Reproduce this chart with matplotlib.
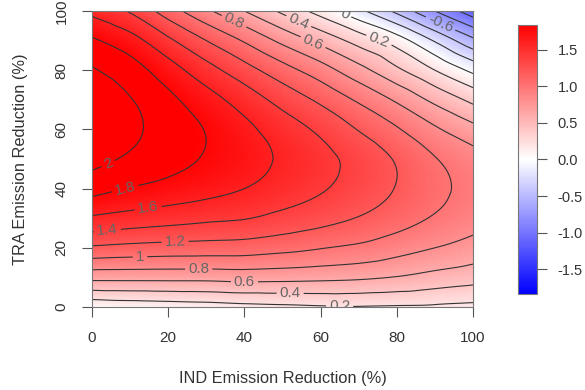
import numpy as np
import matplotlib
matplotlib.use("Agg")
import matplotlib.pyplot as plt
import matplotlib.tri as mtri
from matplotlib.colors import LinearSegmentedColormap, Normalize
from matplotlib.cm import ScalarMappable

plt.rcParams["font.family"] = ["Liberation Sans", "DejaVu Sans"]
plt.rcParams["axes.unicode_minus"] = False
plt.rcParams["contour.negative_linestyle"] = "solid"

# eixos (% de reducao) e valores, linhas = TRA, colunas = IND
ind = [0, 10, 20, 30, 40, 50, 60, 70, 80, 90, 100]
tra = [0, 10, 20, 30, 40, 50, 60, 70, 80, 90, 100]
z = [
    [0.04, 0.07, 0.09, 0.11, 0.14, 0.16, 0.18, 0.19, 0.18, 0.17, 0.15],
    [0.66, 0.66, 0.66, 0.66, 0.675, 0.665, 0.65, 0.63, 0.59, 0.53, 0.48],
    [1.17, 1.14, 1.12, 1.11, 1.10, 1.06, 1.01, 0.96, 0.88, 0.80, 0.72],
    [1.57, 1.52, 1.48, 1.44, 1.41, 1.34, 1.27, 1.19, 1.09, 0.98, 0.88],
    [1.87, 1.79, 1.73, 1.67, 1.60, 1.51, 1.42, 1.31, 1.19, 1.05, 0.94],
    [2.06, 1.97, 1.88, 1.78, 1.69, 1.57, 1.46, 1.33, 1.18, 1.01, 0.88],
    [2.145, 2.04, 1.92, 1.79, 1.65, 1.50, 1.36, 1.19, 1.02, 0.83, 0.66],
    [2.13, 2.01, 1.85, 1.68, 1.51, 1.33, 1.16, 0.97, 0.77, 0.55, 0.35],
    [2.02, 1.89, 1.69, 1.48, 1.28, 1.08, 0.89, 0.67, 0.44, 0.20, -0.05],
    [1.83, 1.68, 1.44, 1.20, 0.98, 0.75, 0.54, 0.32, 0.10, -0.22, -0.55],
    [1.55, 1.38, 1.10, 0.84, 0.60, 0.36, 0.12, -0.15, -0.45, -0.80, -1.12],
]
niveis = [-1.0, -0.8, -0.6, -0.4, -0.2, 0.0, 0.2, 0.4, 0.6, 0.8, 1.0, 1.2, 1.4, 1.6, 1.8, 2.0]
cbar_ticks = [-1.5, -1.0, -0.5, 0.0, 0.5, 1.0, 1.5]

# onde os rotulos das curvas aparecem
pos_rotulos = [
    (4, 49), (8.7, 40), (14.7, 33.4), (4, 26.7), (21.8, 21.6), (12.6, 16.6),
    (28, 12.5), (40, 8.1), (52, 4), (65, 0.5),
    (37.3, 96.6), (54.6, 97.6), (66.4, 99.3), (75.6, 91.2), (57.7, 88.5), (91.3, 95.3),
]

X, Y = np.meshgrid(ind, tra)
Z = np.array(z)
tri = mtri.Triangulation(X.ravel(), Y.ravel())
interp = mtri.CubicTriInterpolator(tri, Z.ravel(), kind="geom")
tri_f, z_f = mtri.UniformTriRefiner(tri).refine_field(Z.ravel(), triinterpolator=interp, subdiv=4)

cmap = LinearSegmentedColormap.from_list("bwr_r", ["#0000ff", "#ffffff", "#ff0000"])
norm = Normalize(vmin=-1.84, vmax=1.84)

fig = plt.figure(figsize=(5.85, 3.9), dpi=100)
ax = fig.add_axes([0.1573, 0.2128, 0.6513, 0.759])
ax.tripcolor(tri_f, z_f, cmap=cmap, norm=norm, shading="gouraud")
cs = ax.tricontour(tri_f, z_f, levels=niveis, colors="#333333", linewidths=0.8)
ax.clabel(cs, fmt=lambda v: f"{round(v, 1):g}", manual=pos_rotulos, inline=True,
          inline_spacing=3, fontsize=11, colors="#666666")

ax.set_xlim(0, 100)
ax.set_ylim(0, 100)
ax.set_xticks([0, 20, 40, 60, 80, 100])
ax.set_yticks([0, 20, 40, 60, 80, 100])
ax.set_yticklabels(["0", "20", "40", "60", "80", "100"], rotation=90, va="center")
ax.tick_params(direction="out", length=7, width=0.8, color="#555555",
               labelsize=11, labelcolor="#333333", pad=10)
for s in ax.spines.values():
    s.set_color("#777777")
    s.set_linewidth(0.8)
ax.set_xlabel("IND Emission Reduction (%)", fontsize=11.8, color="#333333", labelpad=19)
ax.set_ylabel("TRA Emission Reduction (%)", fontsize=11.8, color="#333333", labelpad=19)

cax = fig.add_axes([0.8855, 0.2462, 0.0325, 0.6897])
cb = fig.colorbar(ScalarMappable(norm=norm, cmap=cmap), cax=cax, ticks=cbar_ticks)
cb.ax.set_yticklabels([f"{t:.1f}" for t in cbar_ticks])
cb.outline.set_edgecolor("#777777")
cb.outline.set_linewidth(0.8)
cax.tick_params(direction="out", length=7, width=0.8, color="#555555",
                labelsize=10.5, labelcolor="#333333", pad=8)

fig.savefig("out.png", dpi=100)
